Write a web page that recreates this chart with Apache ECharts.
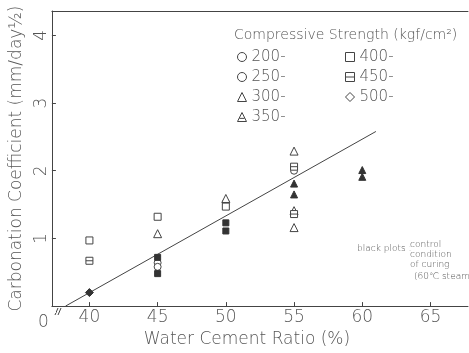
<!DOCTYPE html>
<html><head><meta charset="utf-8">
<script src="https://cdn.jsdelivr.net/npm/echarts@6/dist/echarts.min.js"></script>
<style>html,body{margin:0;padding:0;background:#fff}#c{width:469px;height:353px}</style>
</head><body><div id="c"></div>
<script>
// ---- data ----
var xTicks = [40, 45, 50, 55, 60, 65];
var yTicks = [1, 2, 3, 4];
var s200 = [[45, 0.64]];
var s250 = [[45, 0.58], [50, 1.53], [55, 2.0]];
var s300 = [[45, 1.07], [50, 1.59], [55, 2.29], [55, 1.16]];
var s350 = [[55, 1.41]];
var s400 = [[40, 0.97], [45, 1.32], [50, 1.47]];
var s450 = [[40, 0.67], [55, 2.06], [55, 1.36]];
var s500 = [];
var blackSquares = [[45, 0.72], [45, 0.48], [50, 1.23], [50, 1.11]];
var blackTriangles = [[55, 1.81], [55, 1.65], [60, 2.01], [60, 1.91]];
var blackDiamonds = [[40, 0.2]];
var fitLine = [[38.25, 0.0], [61, 2.58]];

var FONT = "'DejaVu Sans', sans-serif";
var TXT = '#555';
var INK = '#444';
var triLine = 'path://M5,0 L10,10 L0,10 Z M2.2,6.5 L7.8,6.5';
var sqLine = 'path://M0,0 L10,0 L10,10 L0,10 Z M0,5 L10,5';

function open(name, data, symbol, size) {
  return { name: name, type: 'scatter', data: data, symbol: symbol, symbolSize: size,
    itemStyle: { color: '#fff', borderColor: INK, borderWidth: 1, opacity: 1 }, z: 3 };
}
function filled(name, data, symbol, size) {
  return { name: name, type: 'scatter', data: data, symbol: symbol, symbolSize: size,
    itemStyle: { color: '#333', borderColor: '#333', borderWidth: 1, opacity: 1 }, z: 4 };
}

var chart = echarts.init(document.getElementById('c'), null, { renderer: 'canvas' });
var legText = { color: TXT, fontFamily: FONT, fontSize: 15, fontWeight: 200, lineHeight: 16 };
var legItem = { color: '#fff', borderColor: INK, borderWidth: 1 };
chart.setOption({
  animation: false,
  backgroundColor: '#fff',
  title: { text: 'Compressive Strength (kgf/cm²)', left: 229, top: 23,
    textStyle: { color: TXT, fontFamily: FONT, fontSize: 14, fontWeight: 200 } },
  legend: [
    { data: ['200-', '250-', '300-', '350-'], orient: 'vertical', left: 232, top: 44,
      itemWidth: 9, itemHeight: 9, itemGap: 4, textStyle: legText, itemStyle: legItem, selectedMode: false },
    { data: ['400-', '450-', '500-'], orient: 'vertical', left: 340, top: 44,
      itemWidth: 9, itemHeight: 9, itemGap: 4, textStyle: legText, itemStyle: legItem, selectedMode: false }
  ],
  grid: { left: 47, right: 1, top: 11, bottom: 41, containLabel: false },
  xAxis: [{
    type: 'value', min: 37.25, max: 67.75,
    name: 'Water Cement Ratio (%)', nameLocation: 'middle', nameGap: 22,
    nameTextStyle: { color: TXT, fontFamily: FONT, fontSize: 17, fontWeight: 200, padding: [0, 26, 0, 0] },
    axisLine: { lineStyle: { color: INK, width: 1 } },
    axisTick: { inside: true, length: 4, customValues: xTicks, lineStyle: { color: INK } },
    axisLabel: { customValues: xTicks, color: TXT, fontFamily: FONT, fontSize: 17, fontWeight: 200, margin: 3 },
    splitLine: { show: false }
  }, {
    type: 'value', position: 'top', min: 37.25, max: 67.75,
    axisLine: { show: true, lineStyle: { color: INK, width: 1 } },
    axisTick: { show: false }, axisLabel: { show: false }, splitLine: { show: false }
  }],
  yAxis: {
    type: 'value', min: 0, max: 4.36, interval: 1,
    name: 'Carbonation Coefficient (mm/day½)', nameLocation: 'middle', nameGap: 20,
    nameTextStyle: { color: TXT, fontFamily: FONT, fontSize: 17, fontWeight: 200 },
    axisLine: { show: true, lineStyle: { color: INK, width: 1 } },
    axisTick: { inside: true, length: 4, customValues: yTicks, lineStyle: { color: INK } },
    axisLabel: { customValues: yTicks, rotate: 90, color: TXT, fontFamily: FONT, fontSize: 17, fontWeight: 200, margin: 2 },
    splitLine: { show: false }
  },
  graphic: [
    { type: 'text', left: 38, top: 314, style: { text: '0', fill: TXT, font: '200 17px ' + FONT } },
    { type: 'text', left: 357, top: 244, style: { text: 'black plots :', fill: TXT, font: '200 9px ' + FONT } },
    { type: 'text', left: 410, top: 240, style: { text: 'control\ncondition\nof curing', fill: TXT, font: '200 9px ' + FONT, lineHeight: 10 } },
    { type: 'text', left: 414, top: 272, style: { text: '(60℃ steam)', fill: TXT, font: '200 9px ' + FONT } },
    { type: 'line', shape: { x1: 55, y1: 315, x2: 58, y2: 308 }, style: { stroke: INK, lineWidth: 1 } },
    { type: 'line', shape: { x1: 58, y1: 315, x2: 61, y2: 308 }, style: { stroke: INK, lineWidth: 1 } },
    { type: 'rect', shape: { x: 48, y: 309, width: 8, height: 4 }, style: { fill: '#fff' }, z: 10 }
  ],
  series: [
    { name: 'fit', type: 'line', data: fitLine, symbol: 'none', lineStyle: { color: INK, width: 1 }, z: 2 },
    open('200-', s200, 'circle', 7),
    open('250-', s250, 'circle', 7),
    open('300-', s300, 'triangle', 8),
    open('350-', s350, triLine, 8),
    open('400-', s400, 'rect', 7),
    open('450-', s450, sqLine, 7),
    open('500-', s500, 'diamond', 10),
    filled('blackSq', blackSquares, 'rect', 6),
    filled('blackTri', blackTriangles, 'triangle', 7),
    filled('blackDia', blackDiamonds, 'diamond', 8)
  ]
});
</script></body></html>
